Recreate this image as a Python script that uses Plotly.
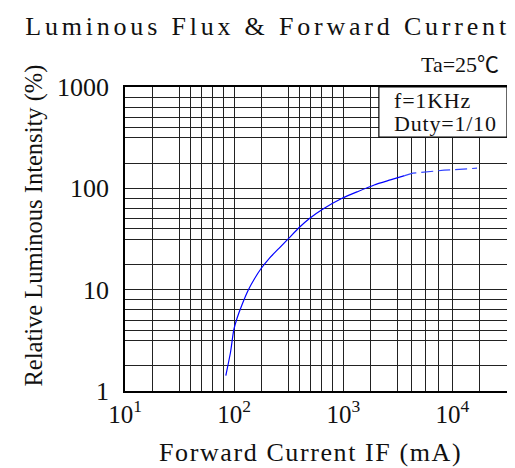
import plotly.graph_objects as go

# ---- data ----
solid_if = [83.9, 92.8, 99.2, 106.3, 117.8, 134.8, 154.6, 177.3, 210, 257.6, 316, 388,
            493, 647, 975, 1365, 1920, 2700, 3650]
solid_iv = [1.42, 2.44, 4.0, 5.22, 7.06, 9.93, 12.96, 16.26, 20.4, 25.6, 32.1, 40.4,
            50.7, 62.2, 79.8, 93.2, 108, 121, 133.4]
dash_if = [3650, 4340, 8390, 16800]
dash_iv = [133.4, 141, 151, 158]

x_major = [10, 100, 1000, 10000]
x_major_text = ["10<sup>1</sup>", "10<sup>2</sup>", "10<sup>3</sup>", "10<sup>4</sup>"]
y_major = [1, 10, 100, 1000]
y_major_text = ["1", "10", "100", "1000"]

# grid fractions inside each decade (log units), as drawn on the sheet
y_grid_frac = [0.25, 0.5, 0.6, 0.7, 0.8, 0.9]
x_grid_frac = {1: [0.25, 0.5, 0.6, 0.7, 0.8, 0.9],
               2: [0.25, 0.5, 0.6, 0.7, 0.8, 0.9],
               3: [0.25, 0.5, 0.625, 0.75, 0.875],
               4: [0.25]}

y_minor = [10 ** (d + f) for d in range(0, 3) for f in y_grid_frac]
x_minor = [10 ** (d + f) for d, fr in x_grid_frac.items() for f in fr]

SERIF = "Liberation Serif, Times New Roman, Noto Sans CJK SC, serif"
GRID = "#222222"
INK = "#111111"

fig = go.Figure()
fig.add_trace(go.Scatter(x=solid_if, y=solid_iv, mode="lines",
                         line=dict(color="#0000ff", width=1.2, shape="spline", smoothing=0.6),
                         showlegend=False))
fig.add_trace(go.Scatter(x=dash_if, y=dash_iv, mode="lines",
                         line=dict(color="#3344ff", width=1.2, dash="12px,5px"),
                         showlegend=False))

# the page body adds an 8px offset, so the figure is 8px smaller than the window
fig.update_layout(
    width=507, height=460,
    margin=dict(l=117, r=6, t=79, b=77),
    paper_bgcolor="white", plot_bgcolor="white",
    font=dict(family=SERIF, color=INK, size=25),
    title=dict(text='<span style="letter-spacing:3.8px">Luminous Flux & Forward Current</span>',
               xref="container", yref="container", x=0.512, y=0.962,
               xanchor="center", yanchor="middle",
               font=dict(family=SERIF, size=26, color=INK)),
    xaxis=dict(type="log", range=[1, 4.5],
               tickmode="array", tickvals=x_major, ticktext=x_major_text,
               ticks="", ticklabelstandoff=0,
               showgrid=True, gridcolor=GRID, gridwidth=1,
               minor=dict(tickmode="array", tickvals=x_minor, showgrid=True,
                          gridcolor=GRID, gridwidth=1, ticks=""),
               showline=True, linecolor="black", linewidth=1.5, mirror=True,
               zeroline=False,
               tickfont=dict(family=SERIF, size=25, color=INK)),
    yaxis=dict(type="log", range=[0, 3],
               tickmode="array", tickvals=y_major, ticktext=y_major_text,
               ticks="", ticklabelstandoff=9,
               showgrid=True, gridcolor=GRID, gridwidth=1,
               minor=dict(tickmode="array", tickvals=y_minor, showgrid=True,
                          gridcolor=GRID, gridwidth=1, ticks=""),
               showline=True, linecolor="black", linewidth=1.5, mirror=True,
               zeroline=False,
               tickfont=dict(family=SERIF, size=26, color=INK)),
)

# white legend box in upper right corner
fig.add_shape(type="rect", xref="paper", yref="paper",
              x0=0.6646, x1=1.0, y0=0.8355, y1=1.0,
              fillcolor="white", line=dict(color="black", width=1.2), layer="above")

fig.add_annotation(text='<span style="letter-spacing:0.8px">f=1KHz</span>',
                   xref="paper", yref="paper", x=0.699, y=0.957,
                   xanchor="left", yanchor="middle", showarrow=False,
                   font=dict(family=SERIF, size=22, color=INK))
fig.add_annotation(text='<span style="letter-spacing:0.8px">Duty=1/10</span>',
                   xref="paper", yref="paper", x=0.699, y=0.880,
                   xanchor="left", yanchor="middle", showarrow=False,
                   font=dict(family=SERIF, size=22, color=INK))
fig.add_annotation(text="Ta=25℃", xref="paper", yref="paper", x=1.0, y=1.073,
                   xanchor="right", yanchor="middle", xshift=-6, showarrow=False,
                   font=dict(family=SERIF, size=22, color=INK))

# axis titles as annotations for exact placement
fig.add_annotation(text="Relative Luminous Intensity (%)", xref="paper", yref="paper",
                   x=-0.237, y=0.546, xanchor="center", yanchor="middle",
                   textangle=-90, showarrow=False,
                   font=dict(family=SERIF, size=24.5, color=INK))
fig.add_annotation(text='<span style="letter-spacing:1.6px">Forward Current IF (mA)</span>',
                   xref="paper", yref="paper", x=0.4847, y=-0.2007,
                   xanchor="center", yanchor="middle", showarrow=False,
                   font=dict(family=SERIF, size=26, color=INK))

fig.write_html("out.html")
